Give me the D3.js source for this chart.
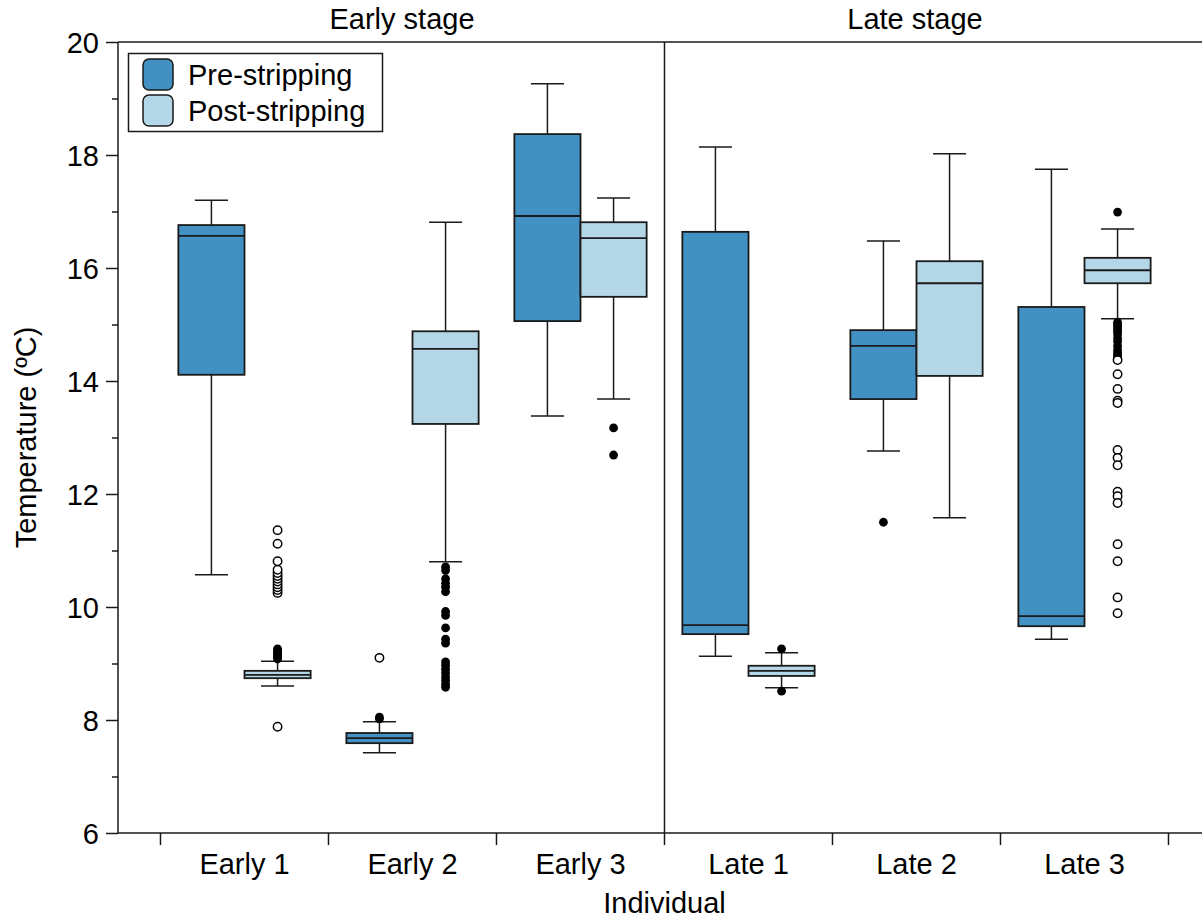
<!DOCTYPE html>
<meta charset="utf-8">
<style>
  body { margin: 0; background: #fff; }
  svg text { font-family: "Liberation Sans", Arial, Helvetica, sans-serif; fill: #000; }
</style>
<svg width="1202" height="921"></svg>
<script src="https://d3js.org/d3.v7.min.js"></script>
<script>

// categories
var individuals = ["Early 1", "Early 2", "Early 3", "Late 1", "Late 2", "Late 3"];
var stages = ["Early stage", "Late stage"];
var groups = ["Pre-stripping", "Post-stripping"];

// [lower whisker, Q1, median, Q3, upper whisker]
var preStats = [
  [10.57, 14.11, 16.57, 16.76, 17.20],
  [7.42, 7.59, 7.68, 7.77, 7.97],
  [13.38, 15.06, 16.92, 18.37, 19.26],
  [9.13, 9.52, 9.68, 16.64, 18.14],
  [12.76, 13.68, 14.62, 14.90, 16.48],
  [9.43, 9.66, 9.84, 15.31, 17.75]
];
var postStats = [
  [8.60, 8.74, 8.80, 8.87, 9.04],
  [10.80, 13.24, 14.57, 14.88, 16.81],
  [13.68, 15.49, 16.53, 16.81, 17.24],
  [8.57, 8.78, 8.87, 8.96, 9.19],
  [11.58, 14.09, 15.73, 16.12, 18.02],
  [15.10, 15.73, 15.96, 16.18, 16.69]
];

// outliers (filled) and extreme values (open)
var preFilled = [[], [8.02, 8.05], [], [], [11.50], []];
var preOpen = [[], [9.10], [], [], [], []];
var postFilled = [
  [9.08, 9.11, 9.14, 9.17, 9.20, 9.23, 9.26],
  [10.71, 10.65, 10.50, 10.42, 10.35, 10.27, 9.92, 9.85, 9.63, 9.43, 9.36, 9.03, 8.97, 8.90, 8.83, 8.76, 8.70, 8.63, 8.58],
  [13.17, 12.69],
  [9.26, 8.51],
  [],
  [16.99, 15.04, 15.00, 14.96, 14.92, 14.88, 14.83, 14.76, 14.70, 14.62, 14.55, 14.50, 14.46, 14.42]
];
var postOpen = [
  [10.25, 10.30, 10.35, 10.40, 10.45, 10.50, 10.55, 10.60, 10.66, 10.81, 11.12, 11.36, 7.88],
  [],
  [],
  [],
  [],
  [14.37, 14.12, 13.86, 13.65, 13.61, 12.78, 12.64, 12.51, 12.04, 11.96, 11.84, 11.11, 10.81, 10.17, 9.89]
];

var yMajor = [6, 8, 10, 12, 14, 16, 18, 20];
var yMinor = [7, 9, 11, 13, 15, 17, 19];
var colors = ["#4390c3", "#b3d7e7"];

var svg = d3.select("svg"),
    pLeft = 118, pRight = 1211, pTop = 42, pBottom = 833,
    fs = "29px";

var y = d3.scaleLinear().domain([6, 20]).range([pBottom, pTop]);

var x = d3.scaleBand()
    .domain(individuals)
    .range([160.5, 1168.5]);

var xg = d3.scaleBand()
    .domain(groups)
    .range([0, x.bandwidth()])
    .paddingOuter(0.27);

var color = d3.scaleOrdinal().domain(groups).range(colors);

var ink = "#1a1a1a";

// frame lines
svg.append("line").attr("x1", pLeft).attr("x2", pRight).attr("y1", pTop).attr("y2", pTop)
    .attr("stroke", ink).attr("stroke-width", 1.5);
svg.append("line").attr("x1", pLeft).attr("x2", pRight).attr("y1", pBottom).attr("y2", pBottom)
    .attr("stroke", ink).attr("stroke-width", 1.5);
svg.append("line").attr("x1", pLeft).attr("x2", pLeft).attr("y1", pTop).attr("y2", pBottom)
    .attr("stroke", ink).attr("stroke-width", 1.5);

// y axis
var yAxis = svg.append("g")
    .attr("transform", "translate(" + pLeft + ",0)")
    .call(d3.axisLeft(y).tickValues(yMajor).tickSize(12).tickPadding(7));
yAxis.select(".domain").remove();
yAxis.selectAll("line").attr("stroke", ink).attr("stroke-width", 1.5);
yAxis.selectAll("text").style("font-size", fs).attr("dy", "0.36em");

var yMinorAxis = svg.append("g")
    .attr("transform", "translate(" + pLeft + ",0)")
    .call(d3.axisLeft(y).tickValues(yMinor).tickSize(6).tickFormat(""));
yMinorAxis.select(".domain").remove();
yMinorAxis.selectAll("line").attr("stroke", ink).attr("stroke-width", 1.5);

// x axis: labels at centres, ticks at band edges
var xAxis = svg.append("g")
    .attr("transform", "translate(0," + pBottom + ")")
    .call(d3.axisBottom(x).tickSize(0).tickPadding(20));
xAxis.select(".domain").remove();
xAxis.selectAll("text").style("font-size", fs).attr("dy", "0.71em");

var edges = individuals.map(function(d) { return x(d); })
    .concat([x(individuals[individuals.length - 1]) + x.bandwidth()]);
svg.append("g").selectAll("line").data(edges).join("line")
    .attr("x1", function(d) { return d; }).attr("x2", function(d) { return d; })
    .attr("y1", pBottom).attr("y2", pBottom + 12)
    .attr("stroke", ink).attr("stroke-width", 1.5);

// panel divider
var divX = x(individuals[3]);
svg.append("line").attr("x1", divX).attr("x2", divX).attr("y1", pTop).attr("y2", pBottom)
    .attr("stroke", ink).attr("stroke-width", 1.5);

// stage titles
svg.append("text").attr("x", 402).attr("y", 29).attr("text-anchor", "middle")
    .style("font-size", fs).text(stages[0]);
svg.append("text").attr("x", 915).attr("y", 29).attr("text-anchor", "middle")
    .style("font-size", fs).text(stages[1]);

// axis titles
svg.append("text")
    .attr("transform", "translate(36," + ((pTop + pBottom) / 2) + ") rotate(-90)")
    .attr("text-anchor", "middle")
    .style("font-size", fs)
    .text("Temperature (ºC)");
svg.append("text").attr("x", (pLeft + pRight) / 2).attr("y", 913)
    .attr("text-anchor", "middle").style("font-size", fs).text("Individual");

// boxes
var boxes = [];
individuals.forEach(function(ind, i) {
  boxes.push({ind: ind, group: groups[0], s: preStats[i], filled: preFilled[i], open: preOpen[i]});
  boxes.push({ind: ind, group: groups[1], s: postStats[i], filled: postFilled[i], open: postOpen[i]});
});

var bw = xg.bandwidth();

var box = svg.append("g").selectAll("g").data(boxes).join("g")
    .attr("transform", function(d) { return "translate(" + (x(d.ind) + xg(d.group)) + ",0)"; });

// whiskers
box.append("line")
    .attr("x1", bw / 2).attr("x2", bw / 2)
    .attr("y1", function(d) { return y(d.s[0]); })
    .attr("y2", function(d) { return y(d.s[4]); })
    .attr("stroke", ink).attr("stroke-width", 1.5);
box.selectAll(".cap").data(function(d) { return [d.s[0], d.s[4]]; }).join("line")
    .attr("class", "cap")
    .attr("x1", bw / 4).attr("x2", bw * 3 / 4)
    .attr("y1", function(v) { return y(v); }).attr("y2", function(v) { return y(v); })
    .attr("stroke", ink).attr("stroke-width", 1.5);

box.append("rect")
    .attr("x", 0).attr("width", bw)
    .attr("y", function(d) { return y(d.s[3]); })
    .attr("height", function(d) { return y(d.s[1]) - y(d.s[3]); })
    .attr("fill", function(d) { return color(d.group); })
    .attr("stroke", ink).attr("stroke-width", 1.8);

box.append("line")
    .attr("x1", 0).attr("x2", bw)
    .attr("y1", function(d) { return y(d.s[2]); })
    .attr("y2", function(d) { return y(d.s[2]); })
    .attr("stroke", ink).attr("stroke-width", 1.8);

box.selectAll(".out").data(function(d) { return d.filled; }).join("circle")
    .attr("class", "out")
    .attr("cx", bw / 2).attr("cy", function(v) { return y(v); })
    .attr("r", 4.4).attr("fill", "#000");

box.selectAll(".ext").data(function(d) { return d.open; }).join("circle")
    .attr("class", "ext")
    .attr("cx", bw / 2).attr("cy", function(v) { return y(v); })
    .attr("r", 4.2).attr("fill", "#fff").attr("stroke", "#000").attr("stroke-width", 1.5);

// legend
var legend = svg.append("g");
legend.append("rect").attr("x", 128.5).attr("y", 53.5).attr("width", 254).attr("height", 78)
    .attr("fill", "#fff").attr("stroke", ink).attr("stroke-width", 1.5);
var li = legend.selectAll(".item").data(groups).join("g")
    .attr("class", "item")
    .attr("transform", function(d, i) { return "translate(143," + (59 + i * 36) + ")"; });
li.append("rect").attr("width", 30).attr("height", 31).attr("rx", 6)
    .attr("fill", function(d) { return color(d); })
    .attr("stroke", ink).attr("stroke-width", 1.5);
li.append("text").attr("x", 45).attr("y", 26).style("font-size", fs)
    .text(function(d) { return d; });

</script>
